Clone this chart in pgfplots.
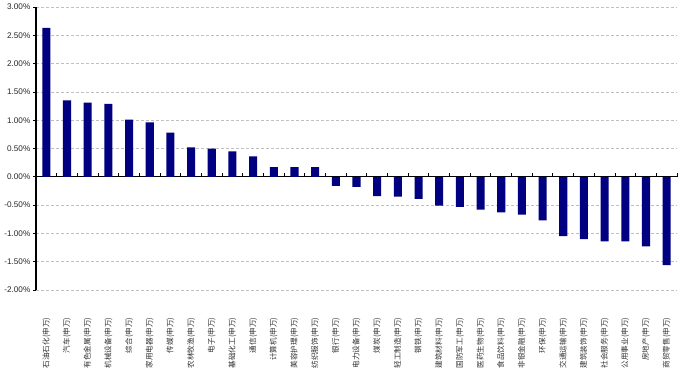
\documentclass[border=0pt]{standalone}
\usepackage{pgfplots}
\pgfplotsset{compat=1.18}
\usepackage{fontspec}
\setmainfont{Liberation Sans}
\newfontfamily\cjk{Noto Sans CJK SC}
\definecolor{barblue}{HTML}{000080}
\definecolor{gridgray}{HTML}{BFBFBF}
\begin{document}
\begin{tikzpicture}
\begin{axis}[
  name=ax,
  scale only axis, width=641bp, height=283bp,
  xmin=-0.5, xmax=30.5, ymin=-2, ymax=3,
  axis lines*=left,
  x axis line style={draw=none},
  y axis line style={black, line width=1.1bp},
  clip=false,
  xtick={0,...,30},
  xticklabels={石油石化(申万),汽车(申万),有色金属(申万),机械设备(申万),综合(申万),家用电器(申万),传媒(申万),农林牧渔(申万),电子(申万),基础化工(申万),通信(申万),计算机(申万),美容护理(申万),纺织服饰(申万),银行(申万),电力设备(申万),煤炭(申万),轻工制造(申万),钢铁(申万),建筑材料(申万),国防军工(申万),医药生物(申万),食品饮料(申万),非银金融(申万),环保(申万),交通运输(申万),建筑装饰(申万),社会服务(申万),公用事业(申万),房地产(申万),商贸零售(申万)},
  x tick style={draw=none},
  xticklabel style={font=\cjk\fontsize{7.6}{8}\selectfont, rotate=90, anchor=east, inner sep=0pt, text=black!80},
  xticklabel shift=25bp,
  ytick={-2,-1.5,...,3},
  y tick style={black, line width=0.8bp},
  tick align=outside,
  major tick length=2.5bp,
  yticklabel={\pgfmathprintnumber[fixed,fixed zerofill,precision=2]{\tick}\%},
  /pgf/number format/assume math mode=true,
  yticklabel style={font=\fontsize{8.2}{9}\selectfont, inner sep=0pt, text=black!85},
  yticklabel shift=3bp,
  ymajorgrids,
  grid style={gridgray, dash pattern=on 3bp off 2bp, line width=0.8bp},
  extra y ticks={0}, extra y tick labels={},
  extra y tick style={grid style={black, solid, line width=1.2bp}, major tick length=0pt},
]
\addplot[ybar, bar width=0.39, fill=barblue, draw=none] coordinates {
(0,2.63) (1,1.35) (2,1.31) (3,1.29) (4,1.01) (5,0.96) (6,0.78) (7,0.52) (8,0.50) (9,0.45)
(10,0.36) (11,0.17) (12,0.17) (13,0.17) (14,-0.16) (15,-0.18) (16,-0.34) (17,-0.35) (18,-0.39) (19,-0.51)
(20,-0.53) (21,-0.58) (22,-0.63) (23,-0.67) (24,-0.77) (25,-1.05) (26,-1.10) (27,-1.14) (28,-1.14) (29,-1.23)
(30,-1.56)};
\addplot[ycomb, black, line width=0.9bp, mark=none] coordinates {
(0.5,0.06) (1.5,0.06) (2.5,0.06) (3.5,0.06) (4.5,0.06) (5.5,0.06) (6.5,0.06) (7.5,0.06) (8.5,0.06) (9.5,0.06)
(10.5,0.06) (11.5,0.06) (12.5,0.06) (13.5,0.06) (14.5,0.06) (15.5,0.06) (16.5,0.06) (17.5,0.06) (18.5,0.06) (19.5,0.06)
(20.5,0.06) (21.5,0.06) (22.5,0.06) (23.5,0.06) (24.5,0.06) (25.5,0.06) (26.5,0.06) (27.5,0.06) (28.5,0.06) (29.5,0.06)
(30.5,0.06)};
\end{axis}
\path (ax.south west) ++(-36bp,-80bp);
\path (ax.north east) ++(3bp,7bp);
\end{tikzpicture}
\end{document}
